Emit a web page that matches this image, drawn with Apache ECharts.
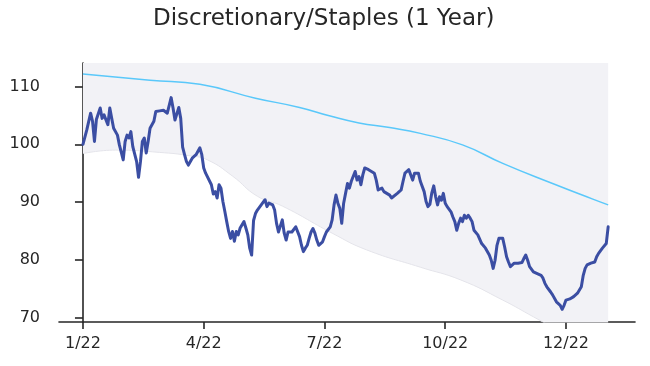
<!DOCTYPE html>
<html>
<head>
<meta charset="utf-8">
<script src="https://cdn.jsdelivr.net/npm/echarts@6/dist/echarts.min.js"></script>
<style>html,body{margin:0;padding:0;background:#fff}#c{width:650px;height:366px}</style>
</head>
<body>
<div id="c"></div>
<script>
// Trading-day index (0 = first day of Jan 2022) and Discretionary/Staples ratio
const mainDay = [0,2,4,5,6,7,8,9,10,11,12,13,14,15,16,18,19,21,22,23,24,25,26,28,29,30,31,32,33,34,35,37,38,40,42,43,44,46,47,48,50,51,52,53,54,55,57,58,59,61,62,63,64,65,67,68,69,70,71,72,73,74,75,76,77,78,79,80,81,82,84,85,86,87,88,89,90,91,92,93,95,96,97,98,99,100,101,102,103,104,105,106,107,108,109,110,111,113,114,115,116,117,118,119,120,121,122,123,125,126,127,129,130,131,132,133,134,135,136,137,138,139,140,142,143,144,145,146,147,149,150,152,153,154,155,156,157,158,160,161,162,164,165,166,167,168,170,171,172,173,174,175,176,178,179,180,181,182,183,184,185,186,187,188,189,190,192,193,194,195,196,197,198,199,200,201,202,203,204,206,207,208,210,211,212,213,214,215,216,217,218,219,220,221,222,223,224,225,227,229,230,231,232,233,235,236,237,239,240,241,242,244,245,246,247,249,250,251,252,253,254,256,257,258,260,261,262,263,264,265,267,268,269,270,271,272,273,274];
const mainVal = [100.0,102.5,105.4,104.0,100.5,104.3,104.3,106.3,104.5,105.1,105.4,103.4,106.3,104.5,102.8,101.6,99.9,97.3,100.5,101.6,101.1,102.2,99.6,97.0,94.3,97.0,100.5,101.1,98.5,100.5,102.8,104.0,105.7,105.8,105.9,106.2,105.4,108.1,106.3,104.2,106.4,104.5,99.5,98.2,97.0,96.4,97.6,97.3,98.2,99.4,98.2,95.9,95.0,95.3,93.0,91.4,91.8,90.7,93.0,92.4,90.1,88.4,86.6,84.9,83.7,84.9,83.2,84.9,84.3,85.5,86.6,85.5,84.3,82.0,80.8,86.8,88.0,88.6,88.9,89.5,90.4,89.2,89.8,89.5,89.5,88.6,86.3,84.8,84.6,86.9,84.6,83.4,84.8,84.6,84.8,84.6,85.7,84.0,82.5,81.4,82.0,82.5,83.7,84.8,85.4,84.6,83.4,82.5,83.1,84.0,84.8,85.7,86.9,89.5,91.2,89.8,88.9,86.3,89.8,91.5,93.2,92.4,93.6,95.3,93.8,94.4,93.0,94.7,95.9,95.6,95.9,95.0,93.8,92.1,91.8,92.4,91.8,91.5,91.2,90.7,91.0,91.5,91.8,92.1,93.6,95.0,95.6,95.3,93.8,95.0,95.3,95.0,93.6,91.8,90.1,89.2,89.6,91.6,92.8,90.9,89.5,90.9,90.3,91.5,89.8,89.2,88.3,87.4,86.6,85.1,86.3,87.2,86.6,87.7,87.2,87.7,87.2,86.6,85.1,84.3,84.0,82.8,82.0,81.7,80.8,79.9,78.5,79.9,82.5,83.7,83.4,83.7,82.2,80.5,79.6,78.8,78.5,79.4,79.4,79.5,80.2,80.8,79.9,78.8,77.9,77.8,77.6,77.3,76.8,75.9,75.3,74.4,73.9,73.6,72.7,72.1,71.4,72.1,73.0,73.3,73.2,73.6,73.9,74.2,75.3,77.3,78.5,79.1,79.1,79.4,79.6,80.5,81.1,81.4,82.0,82.0,82.8,85.7];

// Upper reference line
const upperDay = [0,35,61,90,113,129,144,160,176,198,219,245,266,274];
const upperVal = [112.2,111.1,110.4,108.0,106.4,104.9,103.7,102.9,101.9,99.9,96.7,93.2,90.5,89.5];

// Lower edge of shaded band (band extends above chart top)
const bandDay = [0,17,40,56,65,78,91,104,130,148,176,197,219,235,255,274];
const bandVal = [98.4,99.0,98.6,98.0,97.3,94.5,91.0,89.3,84.6,81.7,78.7,76.5,73.0,70.1,66.5,63.5];

// Tick positions and labels
const xTickDay = [0,63,126,189,252];
const xTickLabels = ['1/22','4/22','7/22','10/22','12/22'];
const yTicks = [70,80,90,100,110];

const zip = (a,b) => a.map((v,i)=>[v,b[i]]);
const font = 'DejaVu Sans';
const ink = '#262626';

const chart = echarts.init(document.getElementById('c'), null, {renderer:'canvas'});
chart.setOption({
  animation:false,
  backgroundColor:'#ffffff',
  title:{text:'Discretionary/Staples (1 Year)', left:148, top:3,
    textStyle:{fontFamily:font, fontSize:23, fontWeight:'normal', color:ink}},
  grid:{left:59, right:15, top:63, bottom:44, containLabel:false, outerBoundsMode:'none'},
  xAxis:{type:'value', min:-12.5, max:288,
    axisLine:{lineStyle:{color:ink, width:1.6}},
    axisTick:{customValues:xTickDay, length:7, lineStyle:{color:ink, width:1.6}},
    axisLabel:{customValues:xTickDay, margin:14, fontFamily:font, fontSize:16, color:ink,
      formatter:(v)=>{const i=xTickDay.indexOf(Math.round(v)); return i>=0?xTickLabels[i]:'';}},
    splitLine:{show:false}},
  yAxis:{type:'value', min:69.2, max:114.1,
    axisLine:{show:true, lineStyle:{color:ink, width:1.6}},
    axisTick:{show:true, customValues:yTicks, length:8, lineStyle:{color:ink, width:1.6}},
    axisLabel:{customValues:yTicks, margin:19, fontFamily:font, fontSize:16, color:ink},
    splitLine:{show:false}},
  series:[
    {type:'line', data:zip(bandDay,bandVal), showSymbol:false, smooth:true, z:1,
      lineStyle:{color:'#e4e4ea', width:1},
      areaStyle:{origin:'end', color:'#f2f2f6', opacity:1}},
    {type:'line', data:zip(upperDay,upperVal), showSymbol:false, smooth:true, z:2,
      lineStyle:{color:'#5ac8fa', width:1.5}},
    {type:'line', data:zip(mainDay,mainVal), showSymbol:false, z:3,
      lineStyle:{color:'#3b4ea3', width:3, join:'round', cap:'round'}}
  ]
});
</script>
</body>
</html>
